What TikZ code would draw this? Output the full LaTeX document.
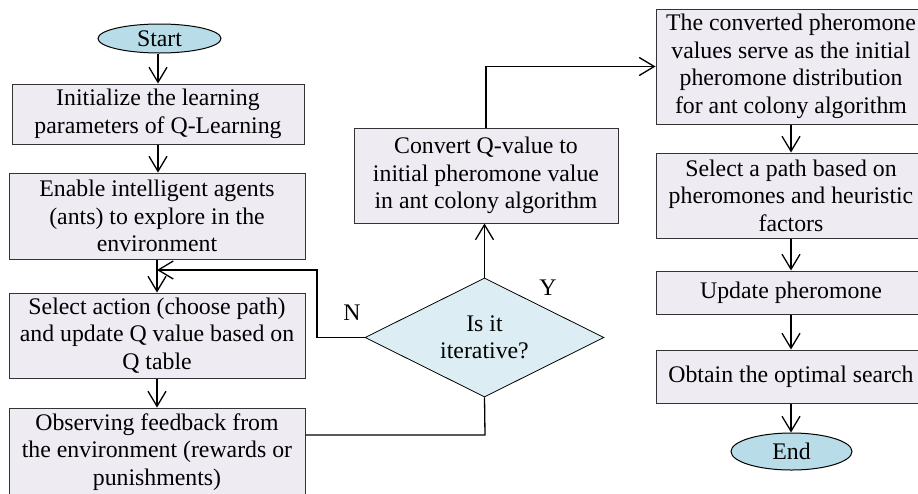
\documentclass[tikz,border=0pt]{standalone}
\usepackage{fontspec}
\setmainfont{Liberation Serif}
\usetikzlibrary{arrows.meta,shapes.geometric}
\definecolor{boxfill}{HTML}{EEEBF3}
\definecolor{ovalfill}{HTML}{B8DDE8}
\definecolor{diafill}{HTML}{DCEEF4}
\definecolor{edgecol}{HTML}{333333}
\begin{document}
\begin{tikzpicture}[x=1pt,y=-1pt,
  every node/.style={font=\fontsize{23.8}{27.5}\selectfont},
  procbox/.style={draw=edgecol,line width=1pt,fill=boxfill,rectangle,inner sep=0pt,align=center},
  oval/.style={draw=black,line width=1pt,fill=ovalfill,ellipse,inner sep=0pt},
  decision/.style={draw=black,line width=0.8pt,fill=diafill,diamond,inner sep=0pt,align=center},
  arr/.style={line width=1.3pt,-{Straight Barb[length=15pt,width=18pt,line width=1.3pt]}},
  ln/.style={line width=1.3pt},
  lbl/.style={inner sep=0pt}]
\useasboundingbox (0,0) rectangle (918,493);
% left column
\node[oval,minimum width=123pt,minimum height=29pt] (start) at (159.5,38.5) {Start};
\node[procbox,minimum width=292pt,minimum height=60pt] (b1) at (158,114) {Initialize the learning\\parameters of Q-Learning};
\node[procbox,minimum width=296pt,minimum height=86pt] (b2) at (157,216) {Enable intelligent agents\\(ants) to explore in the\\environment};
\node[procbox,minimum width=296pt,minimum height=85pt] (b3) at (157,335.5) {Select action (choose path)\\and update Q value based on\\Q table};
\node[procbox,minimum width=296pt,minimum height=88pt] (b4) at (157,452) {Observing feedback from\\the environment (rewards or\\punishments)};
% middle
\node[decision,minimum width=239pt,minimum height=119pt,aspect=2] (dia) at (484.5,337.5) {Is it\\iterative?};
\node[procbox,minimum width=264pt,minimum height=95pt] (conv) at (486,175.5) {Convert Q-value to\\initial pheromone value\\in ant colony algorithm};
% right column
\node[procbox,minimum width=270pt,minimum height=115pt] (r1) at (791,66.5) {The converted pheromone\\values serve as the initial\\pheromone distribution\\for ant colony algorithm};
\node[procbox,minimum width=270pt,minimum height=85pt] (r2) at (791,195.5) {Select a path based on\\pheromones and heuristic\\factors};
\node[procbox,minimum width=270pt,minimum height=43pt] (r3) at (791,292.5) {Update pheromone};
\node[procbox,minimum width=270pt,minimum height=53pt] (r4) at (791,376.5) {Obtain the optimal search};
\node[oval,minimum width=121pt,minimum height=37pt] (end) at (791.5,451.5) {End};
% labels
\node[lbl] (ylab) at (548,288) {Y};
\node[lbl] (nlab) at (352,313) {N};
% connectors
\draw[arr] (start.south -| b1.north) -- (b1.north);
\draw[arr] (b1.south) -- (b1.south |- b2.north);
\draw[arr] (b2.south) -- (b2.south |- b3.north);
\draw[arr] (b3.south) -- (b3.south |- b4.north);
\coordinate (fb) at (485,435);
\draw[ln] (b4.east |- fb) -- (fb) -- (dia.south);
\coordinate (nl) at (317,270);
\draw[arr] (dia.west) -| (nl) -- (b2.south |- nl);
\draw[arr] (dia.north) -- (dia.north |- conv.south);
\draw[arr] (conv.north) |- (r1.west);
\draw[arr] (r1.south) -- (r2.north);
\draw[arr] (r2.south) -- (r3.north);
\draw[arr] (r3.south) -- (r4.north);
\draw[arr] (r4.south) -- (r4.south |- end.north);
\end{tikzpicture}
\end{document}
